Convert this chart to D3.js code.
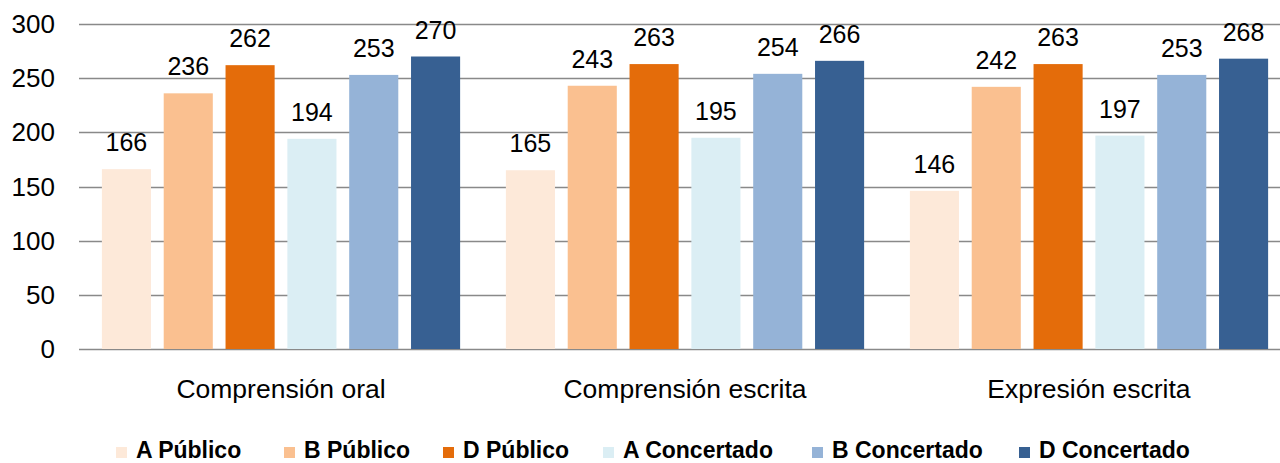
<!DOCTYPE html>
<html><head><meta charset="utf-8">
<script src="https://cdn.jsdelivr.net/npm/d3@7"></script>
<style>body{margin:0;background:#fff}svg{display:block}</style>
</head><body><svg id="c" width="1280" height="463"></svg>
<script>
const categories = ["Comprensión oral", "Comprensión escrita", "Expresión escrita"];
const seriesNames = ["A Público", "B Público", "D Público", "A Concertado", "B Concertado", "D Concertado"];
const seriesColors = ["#FDE9D9", "#FAC090", "#E46C0A", "#DBEEF4", "#95B3D7", "#376092"];
const aPublico = [166, 165, 146];
const bPublico = [236, 243, 242];
const dPublico = [262, 263, 263];
const aConcertado = [194, 195, 197];
const bConcertado = [253, 254, 253];
const dConcertado = [270, 266, 268];
const yTicks = [0, 50, 100, 150, 200, 250, 300];

(function() {
const seriesValues = [aPublico, bPublico, dPublico, aConcertado, bConcertado, dConcertado];
const svg = d3.select("#c");
const font = "Liberation Sans, Arial, sans-serif";
const mLeft = 79, mRight = 1291, mTop = 24, mBottom = 349;

const x0 = d3.scaleBand().domain(categories).range([mLeft, mRight]).paddingInner(0).paddingOuter(0);
const x1 = d3.scaleBand().domain(seriesNames).range([0, x0.bandwidth()]).paddingInner(0.206).paddingOuter(0.37);
const y = d3.scaleLinear().domain([0, 300]).range([mBottom, mTop]);

svg.append("g").selectAll("line").data(yTicks).join("line")
  .attr("x1", mLeft).attr("x2", mRight)
  .attr("y1", d => Math.round(y(d)) + 0.5).attr("y2", d => Math.round(y(d)) + 0.5)
  .attr("stroke", "#898989").attr("stroke-width", 1.3);

svg.append("g").selectAll("text").data(yTicks).join("text")
  .attr("x", 55).attr("y", d => y(d) + 9)
  .attr("text-anchor", "end").attr("font-family", font).attr("font-size", 26)
  .attr("fill", "#000").text(d => d);

const groups = svg.append("g").selectAll("g").data(categories).join("g")
  .attr("transform", d => `translate(${x0(d)},0)`);
groups.each(function(cat, ci) {
  const g = d3.select(this);
  const data = seriesNames.map((s, si) => ({s, si, v: seriesValues[si][ci]}));
  g.selectAll("rect").data(data).join("rect")
    .attr("x", d => x1(d.s)).attr("width", x1.bandwidth())
    .attr("y", d => y(d.v)).attr("height", d => y(0) - y(d.v))
    .attr("fill", d => seriesColors[d.si]);
  g.selectAll("text").data(data).join("text")
    .attr("x", d => x1(d.s) + x1.bandwidth() / 2).attr("y", d => y(d.v) - 18)
    .attr("text-anchor", "middle").attr("font-family", font).attr("font-size", 25)
    .attr("fill", "#000").text(d => d.v);
});

svg.append("g").selectAll("text").data(categories).join("text")
  .attr("x", d => x0(d) + x0.bandwidth() / 2).attr("y", 398)
  .attr("text-anchor", "middle").attr("font-family", font).attr("font-size", 26.5)
  .attr("fill", "#000").text(d => d);

const legendX = [116, 284, 443, 603, 812, 1019];
const lg = svg.append("g").selectAll("g").data(seriesNames).join("g")
  .attr("transform", (d, i) => `translate(${legendX[i]},0)`);
lg.append("rect").attr("x", 0).attr("y", 447).attr("width", 11).attr("height", 11)
  .attr("fill", (d, i) => seriesColors[i]);
lg.append("text").attr("x", 20).attr("y", 458)
  .attr("font-family", font).attr("font-size", 23).attr("font-weight", "bold")
  .attr("fill", "#000").text(d => d);
})();
</script></body></html>
